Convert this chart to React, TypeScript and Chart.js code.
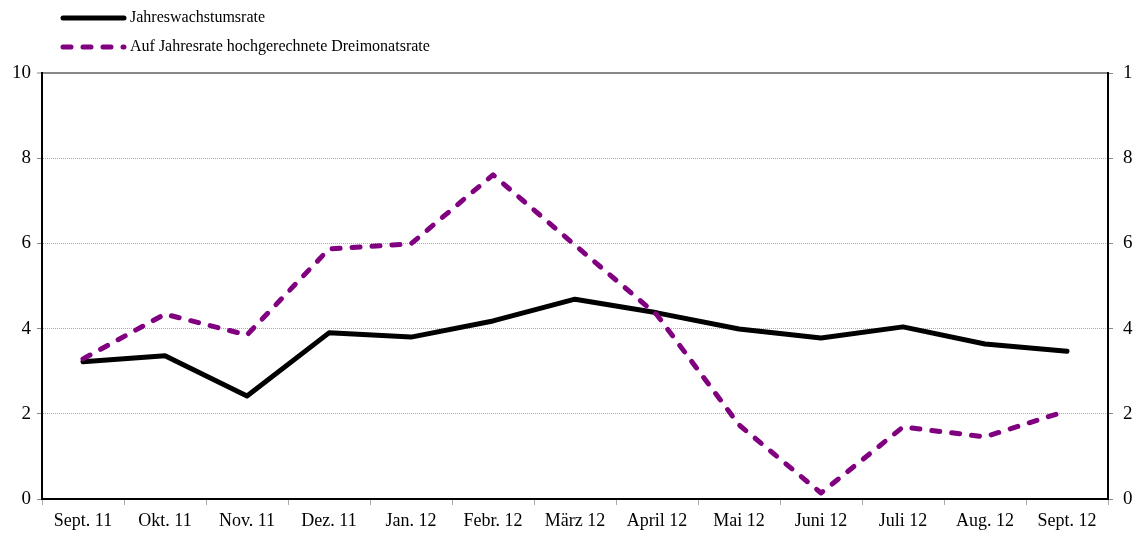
import React, { useEffect, useRef } from "react";
import { Chart, registerables } from "chart.js";

Chart.register(...registerables);

const categories = [
  "Sept. 11", "Okt. 11", "Nov. 11", "Dez. 11", "Jan. 12", "Febr. 12", "März 12",
  "April 12", "Mai 12", "Juni 12", "Juli 12", "Aug. 12", "Sept. 12",
];
const annualRate = [3.22, 3.36, 2.42, 3.90, 3.80, 4.18, 4.69, 4.37, 3.99, 3.78, 4.04, 3.64, 3.47];
const threeMonthRate = [3.29, 4.34, 3.85, 5.87, 5.99, 7.61, 5.96, 4.32, 1.74, 0.14, 1.69, 1.46, 2.07];
const seriesNames = ["Jahreswachstumsrate", "Auf Jahresrate hochgerechnete Dreimonatsrate"];
const yTicks = [0, 2, 4, 6, 8, 10];
const rightTickLabels = ["0", "2", "4", "6", "8", "1"];

const FONT = "'Liberation Serif', 'Times New Roman', serif";
const PURPLE = "#800080";

const legendPlugin = {
  id: "customLegend",
  afterDraw(chart: any) {
    const ctx = chart.ctx;
    ctx.save();
    const items = [
      { y: 18, color: "#000000", dash: [] as number[], label: seriesNames[0] },
      { y: 47, color: PURPLE, dash: [8, 12], label: seriesNames[1] },
    ];
    for (const it of items) {
      ctx.beginPath();
      ctx.lineWidth = 5;
      ctx.strokeStyle = it.color;
      ctx.lineCap = "round";
      ctx.setLineDash(it.dash);
      ctx.moveTo(63, it.y);
      ctx.lineTo(124, it.y);
      ctx.stroke();
      ctx.setLineDash([]);
      ctx.fillStyle = "#000";
      ctx.font = `16px ${FONT}`;
      ctx.textBaseline = "middle";
      ctx.textAlign = "left";
      ctx.fillText(it.label, 130, it.y);
    }
    ctx.restore();
  },
};

export default function App() {
  const ref = useRef<HTMLCanvasElement>(null);
  useEffect(() => {
    document.body.style.margin = "0";
    const gridColor = (c: any) => {
      const v = c.tick?.value;
      if (v === 10) return "#888888";
      if (v === 0) return "rgba(0,0,0,0)";
      return "#aaaaaa";
    };
    const gridWidth = (c: any) => (c.tick?.value === 10 ? 2 : 1);
    const chart = new Chart(ref.current!, {
      type: "line",
      data: {
        labels: categories,
        datasets: [
          {
            label: seriesNames[1],
            data: threeMonthRate,
            borderColor: PURPLE,
            borderWidth: 5,
            borderDash: [8, 12],
            borderCapStyle: "round",
            borderJoinStyle: "round",
            pointRadius: 0,
            tension: 0,
            fill: false,
          },
          {
            label: seriesNames[0],
            data: annualRate,
            borderColor: "#000000",
            borderWidth: 5,
            borderCapStyle: "round",
            borderJoinStyle: "round",
            pointRadius: 0,
            tension: 0,
            fill: false,
          },
        ],
      },
      options: {
        animation: false,
        responsive: false,
        maintainAspectRatio: false,
        layout: { padding: { top: 73, left: 0, right: 0, bottom: 0 } },
        plugins: { legend: { display: false }, tooltip: { enabled: false } },
        scales: {
          x: {
            offset: true,
            grid: {
              offset: true,
              drawOnChartArea: false,
              drawTicks: true,
              tickLength: 6,
              color: "#888888",
              tickColor: "#aaaaaa",
            },
            border: { display: true, color: "#000000", width: 2 },
            ticks: {
              color: "#000",
              font: { family: FONT, size: 18 },
              maxRotation: 0,
              autoSkip: false,
              padding: 5,
            },
            afterFit(scale: any) {
              scale.height = 35;
            },
          },
          y: {
            position: "left",
            min: 0,
            max: 10,
            afterBuildTicks(scale: any) {
              scale.ticks = yTicks.map((v) => ({ value: v }));
            },
            grid: {
              color: gridColor,
              lineWidth: gridWidth,
              tickColor: "#888888",
              tickWidth: 1,
              tickLength: 5,
            },
            border: {
              display: true,
              color: "#000000",
              width: 2,
              dash: (c: any) => (c.tick && c.tick.value !== 10 ? [1, 1] : []),
            },
            ticks: {
              color: "#000",
              font: { family: FONT, size: 19 },
              padding: 6,
              callback: (v: any) => String(v),
            },
            afterFit(scale: any) {
              scale.width = 42;
            },
          },
          y2: {
            position: "right",
            min: 0,
            max: 10,
            afterBuildTicks(scale: any) {
              scale.ticks = yTicks.map((v) => ({ value: v }));
            },
            grid: {
              drawOnChartArea: false,
              tickColor: "#888888",
              tickLength: 5,
            },
            border: { display: true, color: "#000000", width: 2 },
            ticks: {
              color: "#000",
              font: { family: FONT, size: 19 },
              padding: 10,
              callback: (_v: any, i: number) => rightTickLabels[i],
            },
            afterFit(scale: any) {
              scale.width = 30;
            },
          },
        },
      },
      plugins: [legendPlugin],
    });
    return () => chart.destroy();
  }, []);
  return (
    <div style={{ width: 1138, height: 534 }}>
      <canvas ref={ref} width={1138} height={534} style={{ display: "block" }} />
    </div>
  );
}
